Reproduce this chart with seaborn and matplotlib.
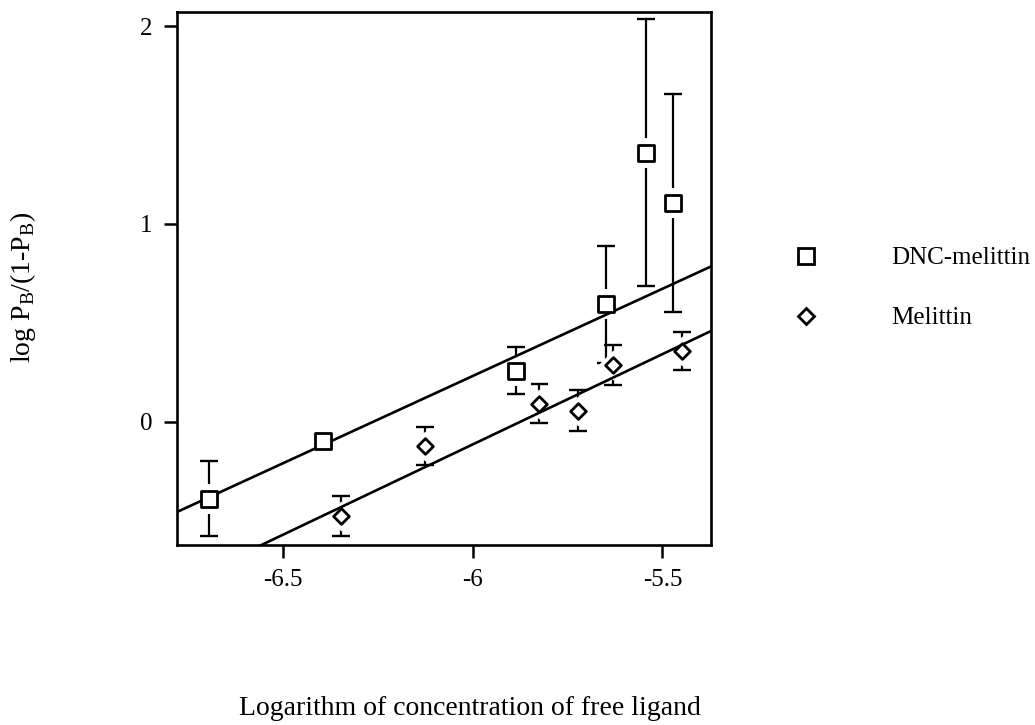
import numpy as np
import pandas as pd
import matplotlib
matplotlib.use("Agg")
import matplotlib.pyplot as plt
import seaborn as sns
from matplotlib.lines import Line2D

# ---- data ----
dnc_x = [-6.696, -6.394, -5.887, -5.648, -5.543, -5.473]
dnc_y = [-0.391, -0.096, 0.258, 0.594, 1.361, 1.105]
dnc_err = [0.19, 0.0, 0.118, 0.295, 0.675, 0.552]

mel_x = [-6.347, -6.125, -5.826, -5.723, -5.631, -5.449]
mel_y = [-0.478, -0.123, 0.090, 0.055, 0.285, 0.358]
mel_err = [0.101, 0.094, 0.099, 0.103, 0.101, 0.097]

# fitted lines  y = slope * x + intercept
dnc_slope, dnc_intercept = 0.882, 5.523
mel_slope, mel_intercept = 0.913, 5.363
fit_x = [-6.80, -5.36]

series_labels = ["DNC-melittin", "Melittin"]
x_ticks = [-6.5, -6.0, -5.5]
x_tick_labels = ["-6.5", "-6", "-5.5"]
y_ticks = [0, 1, 2]
y_tick_labels = ["0", "1", "2"]
x_label = "Logarithm of concentration of free ligand"
y_label = r"log P$_{\mathregular{B}}$/(1-P$_{\mathregular{B}}$)"

# ---- style ----
sns.set_style("white")
plt.rcParams["font.family"] = ["Liberation Serif", "DejaVu Serif"]
plt.rcParams["mathtext.fontset"] = "custom"
plt.rcParams["mathtext.rm"] = "Liberation Serif"
plt.rcParams["axes.unicode_minus"] = False
plt.rcParams["text.color"] = "black"
plt.rcParams["axes.labelcolor"] = "black"

FS = 18
LFS = 20
fig = plt.figure(figsize=(10.35, 7.25), dpi=100)
ax = fig.add_axes([177 / 1035, 180 / 725, 534 / 1035, 533 / 725])

dnc = pd.DataFrame({"x": dnc_x, "y": dnc_y, "err": dnc_err})
mel = pd.DataFrame({"x": mel_x, "y": mel_y, "err": mel_err})

# error bars
for df in (dnc, mel):
    ax.errorbar(df["x"], df["y"], yerr=df["err"], fmt="none", ecolor="black",
                elinewidth=1.6, capsize=6.5, capthick=1.7, zorder=2)

# white masks giving the small gap between error bars and markers
sns.scatterplot(data=dnc, x="x", y="y", marker="s", s=470, color="white",
                linewidth=0, ax=ax, zorder=3, legend=False)
sns.scatterplot(data=mel, x="x", y="y", marker="D", s=235, color="white",
                linewidth=0, ax=ax, zorder=3, legend=False)

# fitted lines
fx = np.array(fit_x)
fits = pd.DataFrame({
    "x": np.concatenate([fx, fx]),
    "y": np.concatenate([dnc_slope * fx + dnc_intercept, mel_slope * fx + mel_intercept]),
    "series": [series_labels[0]] * 2 + [series_labels[1]] * 2,
})
sns.lineplot(data=fits, x="x", y="y", units="series", estimator=None,
             color="black", lw=1.9, ax=ax, legend=False, zorder=3.5)

# markers
sns.scatterplot(data=dnc, x="x", y="y", marker="s", s=135, facecolor="white",
                edgecolor="black", linewidth=2.0, ax=ax, zorder=4, legend=False)
sns.scatterplot(data=mel, x="x", y="y", marker="D", s=64, facecolor="white",
                edgecolor="black", linewidth=2.0, ax=ax, zorder=4, legend=False)

ax.set_xlim(-6.78, -5.372)
ax.set_ylim(-0.624, 2.072)
ax.set_xticks(x_ticks)
ax.set_xticklabels(x_tick_labels)
ax.set_yticks(y_ticks)
ax.set_yticklabels(y_tick_labels)
ax.tick_params(bottom=True, left=True, top=False, right=False)
ax.tick_params(axis="both", direction="out", length=9.4, width=1.8,
               labelsize=FS, colors="black")
ax.tick_params(axis="x", pad=8)
ax.tick_params(axis="y", pad=8)
for sp in ax.spines.values():
    sp.set_visible(True)
    sp.set_linewidth(1.9)
    sp.set_color("black")

ax.set_xlabel(x_label, fontsize=LFS, color="black")
ax.xaxis.set_label_coords(0.549, -0.283)
ax.set_ylabel(y_label, fontsize=LFS, color="black")
ax.yaxis.set_label_coords(-0.26, 0.484)

handles = [
    Line2D([], [], marker="s", ls="none", markersize=11.6, markerfacecolor="white",
           markeredgecolor="black", markeredgewidth=2.0),
    Line2D([], [], marker="D", ls="none", markersize=8.0, markerfacecolor="white",
           markeredgecolor="black", markeredgewidth=2.0),
]
leg = fig.legend(handles, series_labels, loc="upper left",
                 bbox_to_anchor=(793.5 / 1035, 1 - 247 / 725), bbox_transform=fig.transFigure,
                 frameon=False, fontsize=FS, handlelength=1.0, handletextpad=2.9,
                 labelspacing=1.5, borderpad=0, borderaxespad=0)
for t in leg.get_texts():
    t.set_color("black")

fig.savefig("out.png", dpi=100, facecolor="white")
